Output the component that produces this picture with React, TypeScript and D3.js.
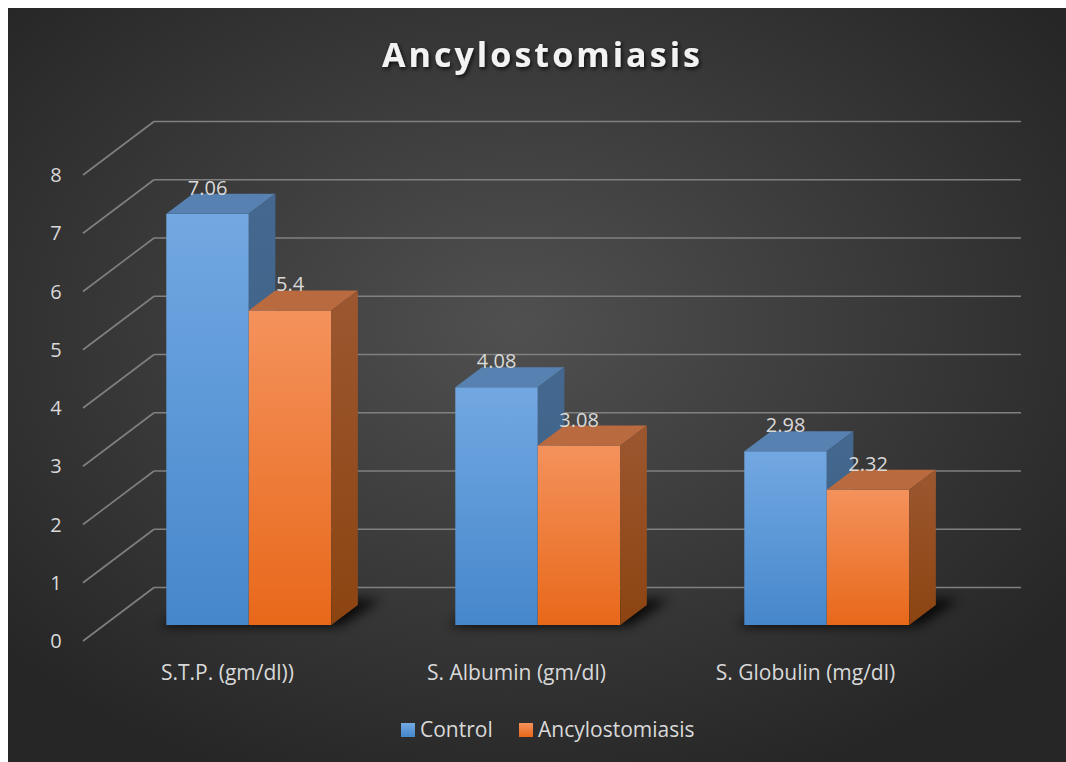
import React from "react";
import * as d3 from "d3";

const categories = ["S.T.P. (gm/dl))", "S. Albumin (gm/dl)", "S. Globulin (mg/dl)"];
const seriesNames = ["Control", "Ancylostomiasis"];
const controlValues = [7.06, 4.08, 2.98];
const ancyloValues = [5.4, 3.08, 2.32];
const yTicks = [0, 1, 2, 3, 4, 5, 6, 7, 8];

const W = 1066;
const H = 762;
const font = "'Open Sans', 'Noto Sans', sans-serif";

// oblique 3d: front floor line and the depth vector
const floorY = 641;
const depthX = 71;
const depthY = 53.5;
const zFront = 0.3;
const zBack = 0.674;

const colors = [
  { top: "#5681b0", side: "#44688f", sideDark: "#3b5d82", g1: "#72a8e2", g2: "#4687cb" },
  { top: "#b96b3f", side: "#9d5730", sideDark: "#8b4411", g1: "#f4925c", g2: "#e8681a" },
];

const App = () => {
  const x0 = d3.scaleBand<string>().domain(categories).range([83, 950]);
  const x1 = d3.scaleBand<string>().domain(seriesNames).range([0, 165]);
  const y = d3.scaleLinear().domain([0, 8]).range([0, 466]);

  // project (screen x at front, value, depth) -> screen
  const proj = (x: number, v: number, z: number): [number, number] => [
    x + z * depthX,
    floorY - y(v) - z * depthY,
  ];

  const pts = (a: [number, number][]) => a.map((p) => p.join(",")).join(" ");

  const series = [controlValues, ancyloValues];

  const bars: React.ReactNode[] = [];
  const shadows: React.ReactNode[] = [];
  const labels: React.ReactNode[] = [];

  categories.forEach((c, ci) => {
    const groupLeft = x0(c)! + x0.bandwidth() / 2 - 82.5;
    // shadow footprint
    const sx0 = groupLeft;
    const sx1 = groupLeft + 165;
    const s = [
      proj(sx0 - 6, 0, zFront - 0.02),
      proj(sx1 + 10, 0, zFront - 0.02),
      proj(sx1 + 16, 0, zBack + 0.1),
      proj(sx0 + 4, 0, zBack + 0.1),
    ];
    shadows.push(<polygon key={"sh" + ci} points={pts(s)} fill="#000" opacity={0.85} filter="url(#blur)" />);

    seriesNames.forEach((sn, si) => {
      const v = series[si][ci];
      const xa = groupLeft + x1(sn)!;
      const xb = xa + x1.bandwidth();
      const col = colors[si];
      const f = [proj(xa, v, zFront), proj(xb, v, zFront), proj(xb, 0, zFront), proj(xa, 0, zFront)];
      const top = [proj(xa, v, zFront), proj(xb, v, zFront), proj(xb, v, zBack), proj(xa, v, zBack)];
      const side = [proj(xb, v, zFront), proj(xb, v, zBack), proj(xb, 0, zBack), proj(xb, 0, zFront)];
      bars.push(
        <g key={"b" + ci + si}>
          <polygon points={pts(f)} fill={`url(#front${si})`} />
          <polygon points={pts(top)} fill={col.top} />
          <polygon points={pts(side)} fill={`url(#side${si})`} />
        </g>
      );
      const [lx, ly] = proj((xa + xb) / 2, v, zFront);
      labels.push(
        <text key={"l" + ci + si} x={lx} y={ly - 19} textAnchor="middle" fontSize={20} fill="#d9d9d9" fontFamily={font}>
          {v}
        </text>
      );
    });
  });

  return (
    <svg width={W} height={H} style={{ position: "absolute", left: 0, top: 0 }}>
      <defs>
        <radialGradient id="bg" cx="48%" cy="42%" r="65%">
          <stop offset="0%" stopColor="#505050" />
          <stop offset="100%" stopColor="#262626" />
        </radialGradient>
        {colors.map((c, i) => (
          <linearGradient key={"fg" + i} id={"front" + i} x1="0" y1="0" x2="0" y2="1">
            <stop offset="0%" stopColor={c.g1} />
            <stop offset="100%" stopColor={c.g2} />
          </linearGradient>
        ))}
        {colors.map((c, i) => (
          <linearGradient key={"sg" + i} id={"side" + i} x1="0" y1="0" x2="0" y2="1">
            <stop offset="0%" stopColor={c.side} />
            <stop offset="100%" stopColor={c.sideDark} />
          </linearGradient>
        ))}
        <filter id="blur" x="-20%" y="-50%" width="140%" height="200%">
          <feGaussianBlur stdDeviation="6" />
        </filter>
        <filter id="tshadow" x="-10%" y="-30%" width="120%" height="160%">
          <feDropShadow dx="1.5" dy="2" stdDeviation="2" floodColor="#000" floodOpacity="0.8" />
        </filter>
      </defs>
      <rect x={0} y={0} width={W} height={H} fill="#fff" />
      <rect x={8} y={8} width={W - 8} height={H - 8} fill="url(#bg)" />

      {/* gridlines: back wall and left wall */}
      {yTicks.map((t) => {
        const [fx, fy] = proj(83, t, 0);
        const [bx, by] = proj(83, t, 1);
        const [ex] = proj(950, t, 1);
        return (
          <g key={"g" + t} stroke="#808080" strokeWidth={1.6} fill="none">
            <line x1={fx} y1={fy} x2={bx} y2={by} />
            <line x1={bx} y1={by} x2={ex} y2={by} />
          </g>
        );
      })}

      {shadows}
      {bars}
      {labels}

      {yTicks.map((t) => {
        const [, fy] = proj(83, t, 0);
        return (
          <text key={"t" + t} x={56} y={fy + 7} textAnchor="middle" fontSize={20} fill="#d9d9d9" fontFamily={font}>
            {t}
          </text>
        );
      })}

      {categories.map((c) => (
        <text key={c} x={x0(c)! + x0.bandwidth() / 2} y={680} textAnchor="middle" fontSize={21} fill="#d9d9d9" fontFamily={font}>
          {c}
        </text>
      ))}

      {/* legend */}
      <rect x={401} y={723} width={14} height={14} fill="url(#front0)" />
      <text x={420} y={737} fontSize={21} fill="#d9d9d9" fontFamily={font}>Control</text>
      <rect x={519} y={723} width={14} height={14} fill="url(#front1)" />
      <text x={538} y={737} fontSize={21} fill="#d9d9d9" fontFamily={font}>Ancylostomiasis</text>

      <text
        x={541}
        y={67}
        textAnchor="middle"
        fontSize={34}
        fontWeight="bold"
        fill="#f2f2f2"
        fontFamily={font}
        textLength={318}
        lengthAdjust="spacing"
        filter="url(#tshadow)"
      >
        Ancylostomiasis
      </text>
    </svg>
  );
};

export default App;
